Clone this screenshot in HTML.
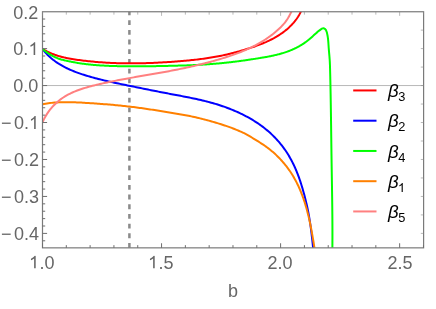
<!DOCTYPE html>
<html><head><meta charset="utf-8"><style>
html,body{margin:0;padding:0;background:#fff;}
body{width:436px;height:309px;position:relative;overflow:hidden;font-family:"Liberation Sans",sans-serif;color:#666666;}
.yl{position:absolute;left:0;width:37.7px;text-align:right;font-size:18px;line-height:20px;height:20px;white-space:nowrap;}
.xl{position:absolute;top:0;transform:translateY(252.6px);width:60px;text-align:center;font-size:18px;line-height:20px;height:20px;}
.lg{position:absolute;left:387.6px;font-size:18.6px;line-height:20px;height:20px;color:#000;white-space:nowrap;}
.g1{width:0.556em;height:0.7187em;vertical-align:baseline;display:inline-block;}
.m{margin-right:2.6px;margin-left:1px}
.yl,.xl,.lg{will-change:transform;}
.lg span{font-size:12.8px;position:relative;top:4.4px;left:-0.3px;}
</style></head><body>
<svg width="436" height="309" viewBox="0 0 436 309" style="position:absolute;left:0;top:0">
<defs><clipPath id="c"><rect x="42.50" y="11.75" width="381.10" height="236.10"/></clipPath></defs>
<line x1="42.50" y1="85.56" x2="423.60" y2="85.56" stroke="#b8b8b8" stroke-width="1"/>
<g clip-path="url(#c)" fill="none" stroke-width="2" stroke-linejoin="round">
<line x1="129.4" y1="0.81" x2="129.4" y2="260" stroke="#8a8a8a" stroke-width="2.5" stroke-dasharray="4.85 4.84"/>
<path d="M42.50 48.90 L43.84 49.70 L45.19 50.46 L46.54 51.18 L47.90 51.86 L49.27 52.51 L50.65 53.12 L52.03 53.70 L53.42 54.24 L54.82 54.76 L56.22 55.24 L57.63 55.70 L59.05 56.12 L60.47 56.53 L61.90 56.91 L63.33 57.26 L64.76 57.60 L66.21 57.91 L67.65 58.21 L69.11 58.49 L70.56 58.76 L72.02 59.01 L73.49 59.25 L74.96 59.47 L76.43 59.69 L77.90 59.90 L79.38 60.10 L80.86 60.29 L82.35 60.48 L83.84 60.66 L85.33 60.84 L86.82 61.01 L88.32 61.17 L89.81 61.33 L91.31 61.48 L92.81 61.62 L94.31 61.76 L95.82 61.89 L97.32 62.02 L98.83 62.14 L100.33 62.25 L101.84 62.36 L103.35 62.46 L104.85 62.56 L106.36 62.65 L107.87 62.74 L109.38 62.82 L110.88 62.89 L112.39 62.96 L113.89 63.02 L115.40 63.08 L116.90 63.13 L118.41 63.18 L119.91 63.22 L121.41 63.25 L122.91 63.28 L124.42 63.31 L125.92 63.33 L127.42 63.35 L128.92 63.36 L130.42 63.36 L131.92 63.36 L133.42 63.36 L134.92 63.35 L136.42 63.34 L137.92 63.32 L139.42 63.30 L140.92 63.27 L142.42 63.24 L143.92 63.20 L145.41 63.16 L146.91 63.12 L148.41 63.07 L149.91 63.02 L151.40 62.96 L152.90 62.90 L154.39 62.84 L155.89 62.77 L157.39 62.70 L158.88 62.62 L160.38 62.54 L161.87 62.46 L163.36 62.37 L164.86 62.28 L166.35 62.19 L167.85 62.09 L169.34 61.99 L170.83 61.89 L172.33 61.79 L173.82 61.68 L175.31 61.56 L176.80 61.45 L178.30 61.33 L179.79 61.21 L181.28 61.08 L182.77 60.96 L184.26 60.83 L185.75 60.69 L187.24 60.55 L188.73 60.41 L190.22 60.26 L191.71 60.11 L193.20 59.95 L194.69 59.79 L196.18 59.62 L197.66 59.44 L199.15 59.26 L200.63 59.08 L202.12 58.88 L203.60 58.69 L205.08 58.48 L206.57 58.27 L208.05 58.04 L209.53 57.82 L211.01 57.58 L212.48 57.33 L213.96 57.08 L215.44 56.82 L216.91 56.55 L218.38 56.27 L219.86 55.98 L221.33 55.68 L222.80 55.38 L224.27 55.06 L225.73 54.73 L227.20 54.40 L228.66 54.05 L230.12 53.70 L231.59 53.34 L233.05 52.97 L234.50 52.59 L235.96 52.21 L237.41 51.81 L238.87 51.41 L240.32 50.99 L241.77 50.57 L243.21 50.15 L244.66 49.71 L246.10 49.27 L247.54 48.81 L248.98 48.36 L250.42 47.89 L251.86 47.41 L253.29 46.93 L254.71 46.44 L256.14 45.93 L257.55 45.41 L258.97 44.89 L260.37 44.35 L261.77 43.79 L263.16 43.23 L264.54 42.64 L265.92 42.05 L267.28 41.43 L268.64 40.80 L269.98 40.16 L271.32 39.49 L272.64 38.81 L273.95 38.11 L275.24 37.38 L276.53 36.64 L277.80 35.87 L279.05 35.09 L280.29 34.28 L281.52 33.44 L282.72 32.58 L283.91 31.70 L285.09 30.79 L286.24 29.86 L287.38 28.90 L288.50 27.91 L289.59 26.89 L290.67 25.84 L291.72 24.77 L292.75 23.67 L293.74 22.54 L294.71 21.38 L295.64 20.20 L296.54 18.99 L297.40 17.75 L298.22 16.48 L299.00 15.19 L299.73 13.88 L300.41 12.53 L301.05 11.16 L301.65 9.77 L302.26 8.35 L302.89 6.91 L302.91 6.87" stroke="#ff0000"/>
<path d="M42.50 48.90 L43.44 50.13 L44.40 51.32 L45.39 52.48 L46.41 53.60 L47.45 54.69 L48.52 55.75 L49.61 56.77 L50.72 57.77 L51.85 58.73 L53.01 59.67 L54.19 60.58 L55.38 61.46 L56.60 62.31 L57.83 63.14 L59.08 63.94 L60.35 64.71 L61.63 65.46 L62.93 66.19 L64.25 66.90 L65.58 67.58 L66.92 68.24 L68.27 68.88 L69.63 69.51 L71.01 70.11 L72.39 70.69 L73.79 71.26 L75.19 71.81 L76.60 72.34 L78.02 72.86 L79.44 73.37 L80.87 73.86 L82.30 74.34 L83.74 74.80 L85.18 75.26 L86.63 75.70 L88.07 76.13 L89.52 76.55 L90.96 76.97 L92.41 77.37 L93.86 77.77 L95.31 78.16 L96.76 78.54 L98.21 78.92 L99.66 79.29 L101.11 79.65 L102.56 80.00 L104.02 80.35 L105.47 80.69 L106.93 81.03 L108.38 81.37 L109.84 81.69 L111.30 82.02 L112.76 82.34 L114.22 82.66 L115.68 82.97 L117.14 83.28 L118.60 83.59 L120.06 83.89 L121.52 84.20 L122.99 84.50 L124.45 84.80 L125.92 85.10 L127.39 85.40 L128.86 85.70 L130.32 85.99 L131.79 86.29 L133.26 86.59 L134.74 86.89 L136.21 87.19 L137.68 87.49 L139.16 87.79 L140.63 88.09 L142.10 88.38 L143.58 88.68 L145.06 88.98 L146.53 89.28 L148.01 89.57 L149.49 89.87 L150.96 90.16 L152.44 90.46 L153.92 90.75 L155.39 91.04 L156.87 91.33 L158.35 91.62 L159.83 91.91 L161.31 92.20 L162.78 92.49 L164.26 92.77 L165.74 93.06 L167.21 93.34 L168.69 93.62 L170.16 93.90 L171.64 94.18 L173.11 94.45 L174.59 94.73 L176.06 95.01 L177.53 95.29 L179.01 95.56 L180.48 95.84 L181.95 96.12 L183.42 96.41 L184.89 96.69 L186.36 96.98 L187.82 97.27 L189.29 97.56 L190.75 97.86 L192.22 98.17 L193.68 98.47 L195.14 98.78 L196.60 99.10 L198.06 99.43 L199.51 99.75 L200.97 100.09 L202.42 100.43 L203.87 100.78 L205.32 101.14 L206.77 101.51 L208.22 101.88 L209.67 102.27 L211.11 102.66 L212.55 103.06 L213.99 103.48 L215.43 103.90 L216.86 104.33 L218.30 104.78 L219.73 105.24 L221.16 105.70 L222.58 106.18 L224.00 106.68 L225.42 107.18 L226.84 107.70 L228.25 108.23 L229.66 108.77 L231.06 109.32 L232.46 109.88 L233.85 110.46 L235.23 111.05 L236.61 111.66 L237.99 112.28 L239.36 112.91 L240.72 113.55 L242.07 114.21 L243.42 114.88 L244.76 115.56 L246.09 116.26 L247.41 116.98 L248.73 117.70 L250.03 118.44 L251.33 119.20 L252.61 119.97 L253.89 120.75 L255.16 121.55 L256.42 122.37 L257.66 123.20 L258.90 124.04 L260.12 124.90 L261.33 125.77 L262.54 126.66 L263.72 127.57 L264.90 128.49 L266.06 129.43 L267.22 130.38 L268.35 131.35 L269.48 132.34 L270.59 133.34 L271.68 134.36 L272.76 135.40 L273.83 136.45 L274.88 137.52 L275.92 138.60 L276.94 139.70 L277.94 140.82 L278.93 141.96 L279.90 143.11 L280.86 144.27 L281.79 145.45 L282.71 146.64 L283.61 147.85 L284.49 149.07 L285.35 150.30 L286.19 151.54 L287.01 152.80 L287.81 154.06 L288.60 155.34 L289.36 156.63 L290.11 157.93 L290.83 159.24 L291.54 160.56 L292.23 161.88 L292.91 163.22 L293.57 164.56 L294.21 165.91 L294.83 167.27 L295.44 168.64 L296.03 170.01 L296.60 171.39 L297.16 172.77 L297.71 174.16 L298.24 175.55 L298.75 176.95 L299.25 178.36 L299.75 179.77 L300.22 181.18 L300.69 182.60 L301.15 184.02 L301.59 185.45 L302.03 186.88 L302.46 188.32 L302.87 189.76 L303.28 191.20 L303.69 192.65 L304.08 194.10 L304.47 195.55 L304.85 197.01 L305.22 198.47 L305.59 199.93 L305.94 201.40 L306.29 202.87 L306.63 204.34 L306.96 205.81 L307.28 207.29 L307.59 208.76 L307.89 210.24 L308.19 211.72 L308.47 213.20 L308.74 214.69 L309.01 216.17 L309.26 217.66 L309.51 219.15 L309.75 220.63 L309.98 222.12 L310.21 223.61 L310.43 225.10 L310.64 226.59 L310.84 228.08 L311.04 229.57 L311.23 231.06 L311.42 232.55 L311.60 234.04 L311.77 235.52 L311.95 237.01 L312.11 238.50 L312.27 239.98 L312.43 241.47 L312.59 242.95 L312.74 244.43 L312.89 245.91 L313.04 247.39 L313.18 248.87 L313.33 250.34 L313.47 251.81 L313.61 253.28 L313.75 254.75 L313.76 254.92" stroke="#0000ff"/>
<path d="M42.50 48.90 L43.11 49.43 L43.73 49.95 L44.35 50.45 L44.98 50.96 L45.62 51.45 L46.26 51.93 L46.92 52.40 L47.58 52.87 L48.24 53.32 L48.91 53.76 L49.59 54.19 L50.28 54.61 L50.97 55.02 L51.66 55.42 L52.36 55.81 L53.07 56.19 L53.78 56.55 L54.50 56.90 L55.22 57.24 L55.95 57.56 L56.68 57.87 L57.42 58.17 L58.16 58.46 L58.90 58.73 L59.65 58.98 L60.41 59.23 L61.16 59.46 L61.92 59.67 L62.68 59.88 L63.45 60.08 L64.22 60.27 L64.99 60.45 L65.77 60.62 L66.54 60.79 L67.32 60.96 L68.11 61.12 L68.89 61.28 L69.68 61.43 L70.46 61.59 L71.25 61.74 L72.04 61.90 L72.84 62.05 L73.63 62.20 L74.42 62.34 L75.22 62.49 L76.02 62.63 L76.81 62.77 L77.61 62.90 L78.40 63.04 L79.20 63.16 L80.00 63.29 L80.79 63.41 L81.59 63.53 L82.39 63.64 L83.18 63.75 L83.98 63.86 L84.78 63.96 L85.57 64.06 L86.37 64.16 L87.17 64.25 L87.96 64.34 L88.76 64.43 L89.55 64.51 L90.35 64.60 L91.15 64.68 L91.94 64.75 L92.74 64.83 L93.53 64.90 L94.33 64.97 L95.13 65.03 L95.92 65.10 L96.72 65.16 L97.52 65.22 L98.31 65.27 L99.11 65.33 L99.91 65.38 L100.70 65.43 L101.50 65.48 L102.30 65.53 L103.09 65.57 L103.89 65.62 L104.69 65.66 L105.48 65.70 L106.28 65.74 L107.08 65.78 L107.87 65.81 L108.67 65.85 L109.47 65.88 L110.27 65.91 L111.07 65.94 L111.86 65.97 L112.66 66.00 L113.46 66.03 L114.26 66.05 L115.06 66.08 L115.85 66.10 L116.65 66.12 L117.45 66.15 L118.25 66.17 L119.05 66.18 L119.85 66.20 L120.65 66.22 L121.45 66.24 L122.24 66.25 L123.04 66.26 L123.84 66.28 L124.64 66.29 L125.44 66.30 L126.24 66.31 L127.04 66.32 L127.84 66.33 L128.64 66.33 L129.44 66.34 L130.24 66.34 L131.04 66.35 L131.84 66.35 L132.64 66.35 L133.44 66.36 L134.24 66.36 L135.04 66.36 L135.84 66.36 L136.64 66.35 L137.44 66.35 L138.24 66.35 L139.04 66.35 L139.84 66.34 L140.64 66.34 L141.44 66.33 L142.24 66.33 L143.04 66.32 L143.84 66.31 L144.64 66.30 L145.44 66.29 L146.24 66.29 L147.04 66.28 L147.84 66.27 L148.65 66.25 L149.45 66.24 L150.25 66.23 L151.05 66.22 L151.85 66.21 L152.65 66.19 L153.45 66.18 L154.25 66.17 L155.05 66.15 L155.85 66.14 L156.65 66.12 L157.45 66.11 L158.25 66.09 L159.05 66.07 L159.85 66.06 L160.65 66.04 L161.46 66.02 L162.26 66.01 L163.06 65.99 L163.86 65.97 L164.66 65.95 L165.46 65.94 L166.26 65.92 L167.06 65.90 L167.86 65.88 L168.66 65.86 L169.46 65.84 L170.26 65.83 L171.06 65.81 L171.86 65.79 L172.66 65.77 L173.46 65.75 L174.26 65.73 L175.06 65.71 L175.86 65.69 L176.66 65.67 L177.46 65.65 L178.26 65.62 L179.06 65.60 L179.86 65.58 L180.66 65.56 L181.46 65.53 L182.26 65.51 L183.06 65.48 L183.86 65.46 L184.66 65.43 L185.46 65.40 L186.26 65.38 L187.06 65.35 L187.86 65.32 L188.65 65.29 L189.45 65.26 L190.25 65.23 L191.05 65.20 L191.85 65.16 L192.65 65.13 L193.45 65.09 L194.25 65.06 L195.05 65.02 L195.84 64.98 L196.64 64.94 L197.44 64.90 L198.24 64.86 L199.04 64.82 L199.84 64.78 L200.63 64.73 L201.43 64.69 L202.23 64.64 L203.03 64.59 L203.83 64.54 L204.62 64.49 L205.42 64.44 L206.22 64.39 L207.02 64.33 L207.82 64.28 L208.61 64.22 L209.41 64.17 L210.21 64.11 L211.00 64.05 L211.80 63.99 L212.60 63.92 L213.40 63.86 L214.19 63.80 L214.99 63.73 L215.79 63.66 L216.58 63.59 L217.38 63.52 L218.18 63.45 L218.97 63.38 L219.77 63.31 L220.56 63.23 L221.36 63.16 L222.16 63.08 L222.95 63.00 L223.75 62.92 L224.54 62.84 L225.34 62.76 L226.13 62.67 L226.93 62.59 L227.72 62.50 L228.52 62.41 L229.31 62.33 L230.11 62.24 L230.90 62.14 L231.70 62.05 L232.49 61.96 L233.29 61.86 L234.08 61.76 L234.88 61.67 L235.67 61.57 L236.46 61.47 L237.26 61.37 L238.05 61.26 L238.85 61.16 L239.64 61.05 L240.43 60.95 L241.23 60.84 L242.02 60.73 L242.81 60.62 L243.60 60.51 L244.40 60.40 L245.19 60.29 L245.98 60.18 L246.78 60.06 L247.57 59.95 L248.36 59.83 L249.15 59.72 L249.94 59.60 L250.74 59.48 L251.53 59.36 L252.32 59.24 L253.11 59.12 L253.90 59.00 L254.69 58.87 L255.49 58.75 L256.28 58.62 L257.07 58.50 L257.86 58.37 L258.65 58.25 L259.44 58.12 L260.23 57.99 L261.02 57.86 L261.81 57.73 L262.60 57.60 L263.39 57.47 L264.18 57.33 L264.97 57.19 L265.75 57.05 L266.54 56.91 L267.33 56.77 L268.11 56.62 L268.90 56.47 L269.68 56.32 L270.47 56.16 L271.25 56.00 L272.03 55.84 L272.81 55.67 L273.59 55.50 L274.37 55.33 L275.15 55.15 L275.92 54.96 L276.70 54.78 L277.47 54.58 L278.25 54.39 L279.02 54.19 L279.79 53.98 L280.56 53.77 L281.32 53.55 L282.09 53.32 L282.85 53.09 L283.61 52.86 L284.37 52.62 L285.13 52.37 L285.89 52.11 L286.64 51.85 L287.40 51.58 L288.15 51.31 L288.90 51.02 L289.64 50.73 L290.39 50.44 L291.13 50.13 L291.87 49.82 L292.61 49.50 L293.34 49.17 L294.07 48.83 L294.80 48.49 L295.52 48.14 L296.25 47.78 L296.96 47.42 L297.68 47.04 L298.38 46.66 L299.09 46.27 L299.79 45.88 L300.48 45.47 L301.17 45.06 L301.86 44.65 L302.54 44.22 L303.21 43.79 L303.88 43.35 L304.54 42.90 L305.20 42.44 L305.85 41.98 L306.49 41.51 L307.13 41.03 L307.76 40.54 L308.38 40.05 L309.00 39.55 L309.61 39.04 L310.21 38.52 L310.81 38.00 L311.40 37.47 L311.98 36.93 L312.57 36.40 L313.15 35.86 L313.73 35.32 L314.31 34.78 L314.90 34.24 L315.49 33.70 L316.09 33.17 L316.69 32.64 L317.30 32.12 L317.93 31.60 L318.56 31.09 L319.20 30.59 L319.86 30.10 L320.53 29.62 L321.22 29.16 L321.93 28.71 L322.65 28.38 L323.38 28.25 L324.11 28.40 L324.77 28.77 L325.33 29.27 L325.78 29.86 L326.16 30.53 L326.46 31.27 L326.72 32.04 L326.94 32.83 L327.13 33.63 L327.31 34.43 L327.47 35.23 L327.61 36.03 L327.74 36.82 L327.86 37.62 L327.96 38.42 L328.05 39.22 L328.14 40.02 L328.21 40.81 L328.28 41.61 L328.34 42.41 L328.40 43.21 L328.45 44.01 L328.51 44.80 L328.56 45.60 L328.61 46.40 L328.66 47.20 L328.72 48.00 L328.78 48.80 L328.85 49.59 L328.91 50.39 L328.98 51.19 L329.05 51.99 L329.12 52.79 L329.19 53.58 L329.26 54.38 L329.33 55.18 L329.40 55.98 L329.47 56.78 L329.53 57.58 L329.59 58.37 L329.65 59.17 L329.70 59.97 L329.75 60.77 L329.80 61.57 L329.84 62.36 L329.87 63.16 L329.91 63.96 L329.94 64.76 L329.97 65.56 L329.99 66.36 L330.02 67.15 L330.04 67.95 L330.06 68.75 L330.08 69.55 L330.10 70.35 L330.12 71.15 L330.14 71.95 L330.16 72.74 L330.18 73.54 L330.20 74.34 L330.22 75.14 L330.24 75.94 L330.26 76.74 L330.28 77.54 L330.29 78.34 L330.31 79.13 L330.33 79.93 L330.35 80.73 L330.37 81.53 L330.38 82.33 L330.40 83.13 L330.42 83.93 L330.43 84.73 L330.45 85.53 L330.47 86.33 L330.48 87.12 L330.50 87.92 L330.51 88.72 L330.53 89.52 L330.54 90.32 L330.56 91.12 L330.57 91.92 L330.59 92.72 L330.60 93.52 L330.62 94.32 L330.63 95.12 L330.65 95.92 L330.66 96.72 L330.67 97.52 L330.69 98.31 L330.70 99.11 L330.71 99.91 L330.73 100.71 L330.74 101.51 L330.75 102.31 L330.77 103.11 L330.78 103.91 L330.79 104.71 L330.81 105.51 L330.82 106.31 L330.83 107.11 L330.84 107.91 L330.86 108.71 L330.87 109.51 L330.88 110.31 L330.89 111.11 L330.90 111.91 L330.92 112.71 L330.93 113.51 L330.94 114.31 L330.95 115.11 L330.96 115.91 L330.97 116.71 L330.98 117.51 L331.00 118.31 L331.01 119.11 L331.02 119.91 L331.03 120.71 L331.04 121.51 L331.05 122.31 L331.06 123.11 L331.07 123.91 L331.08 124.71 L331.10 125.51 L331.11 126.31 L331.12 127.11 L331.13 127.91 L331.14 128.71 L331.15 129.51 L331.16 130.31 L331.17 131.11 L331.18 131.91 L331.19 132.71 L331.20 133.51 L331.21 134.31 L331.22 135.11 L331.23 135.91 L331.24 136.71 L331.25 137.51 L331.27 138.31 L331.28 139.11 L331.29 139.91 L331.30 140.71 L331.31 141.51 L331.32 142.31 L331.33 143.11 L331.34 143.91 L331.35 144.71 L331.36 145.51 L331.37 146.31 L331.38 147.11 L331.39 147.91 L331.41 148.71 L331.42 149.51 L331.43 150.31 L331.44 151.11 L331.45 151.91 L331.46 152.71 L331.47 153.51 L331.48 154.31 L331.50 155.11 L331.51 155.91 L331.52 156.71 L331.53 157.51 L331.54 158.32 L331.55 159.12 L331.57 159.92 L331.58 160.72 L331.59 161.52 L331.60 162.32 L331.61 163.12 L331.63 163.92 L331.64 164.72 L331.65 165.52 L331.66 166.32 L331.68 167.12 L331.69 167.92 L331.70 168.72 L331.71 169.52 L331.73 170.32 L331.74 171.12 L331.75 171.92 L331.77 172.72 L331.78 173.52 L331.79 174.32 L331.80 175.12 L331.82 175.92 L331.83 176.72 L331.84 177.52 L331.86 178.32 L331.87 179.12 L331.88 179.93 L331.89 180.73 L331.91 181.53 L331.92 182.33 L331.93 183.13 L331.94 183.93 L331.96 184.73 L331.97 185.53 L331.98 186.33 L331.99 187.13 L332.01 187.93 L332.02 188.73 L332.03 189.53 L332.04 190.33 L332.05 191.13 L332.07 191.93 L332.08 192.73 L332.09 193.53 L332.10 194.33 L332.11 195.13 L332.12 195.93 L332.13 196.73 L332.15 197.53 L332.16 198.33 L332.17 199.13 L332.18 199.93 L332.19 200.73 L332.20 201.53 L332.21 202.33 L332.22 203.13 L332.23 203.93 L332.24 204.73 L332.25 205.53 L332.26 206.33 L332.27 207.13 L332.28 207.93 L332.28 208.73 L332.29 209.53 L332.30 210.33 L332.31 211.13 L332.32 211.93 L332.32 212.73 L332.33 213.53 L332.34 214.33 L332.35 215.13 L332.35 215.93 L332.36 216.73 L332.37 217.53 L332.37 218.33 L332.38 219.13 L332.38 219.93 L332.39 220.73 L332.39 221.53 L332.40 222.33 L332.40 223.13 L332.41 223.93 L332.41 224.73 L332.41 225.53 L332.42 226.33 L332.42 227.13 L332.42 227.93 L332.42 228.73 L332.43 229.53 L332.43 230.33 L332.43 231.13 L332.43 231.93 L332.43 232.73 L332.43 233.53 L332.43 234.33 L332.43 235.13 L332.43 235.93 L332.43 236.73 L332.43 237.53 L332.43 238.33 L332.42 239.13 L332.42 239.93 L332.42 240.73 L332.41 241.53 L332.41 242.33 L332.41 243.13 L332.40 243.92 L332.40 244.72 L332.39 245.52 L332.39 246.32 L332.38 247.12 L332.37 247.92 L332.36 248.72 L332.36 249.52 L332.35 250.32 L332.34 251.12 L332.33 251.92 L332.32 252.72 L332.31 253.52 L332.30 254.31 L332.29 255.00" stroke="#00ff00"/>
<path d="M42.50 104.20 L43.99 103.93 L45.48 103.67 L46.97 103.45 L48.45 103.24 L49.94 103.05 L51.44 102.88 L52.93 102.74 L54.42 102.61 L55.91 102.49 L57.40 102.40 L58.89 102.32 L60.39 102.26 L61.88 102.21 L63.38 102.18 L64.87 102.16 L66.36 102.15 L67.86 102.15 L69.35 102.17 L70.85 102.20 L72.35 102.23 L73.84 102.28 L75.34 102.33 L76.83 102.39 L78.33 102.46 L79.83 102.54 L81.33 102.62 L82.82 102.70 L84.32 102.79 L85.82 102.88 L87.31 102.98 L88.81 103.07 L90.31 103.17 L91.81 103.27 L93.31 103.37 L94.80 103.47 L96.30 103.57 L97.80 103.68 L99.30 103.79 L100.79 103.90 L102.29 104.01 L103.79 104.13 L105.29 104.24 L106.78 104.36 L108.28 104.49 L109.78 104.61 L111.27 104.74 L112.77 104.87 L114.27 105.01 L115.76 105.14 L117.26 105.29 L118.75 105.43 L120.25 105.58 L121.74 105.73 L123.24 105.89 L124.73 106.05 L126.23 106.22 L127.72 106.39 L129.21 106.56 L130.71 106.74 L132.20 106.92 L133.69 107.11 L135.18 107.30 L136.67 107.49 L138.16 107.69 L139.65 107.90 L141.14 108.10 L142.63 108.31 L144.12 108.52 L145.61 108.74 L147.09 108.96 L148.58 109.18 L150.07 109.40 L151.55 109.63 L153.04 109.85 L154.52 110.08 L156.00 110.31 L157.49 110.55 L158.97 110.78 L160.45 111.02 L161.93 111.25 L163.41 111.49 L164.89 111.73 L166.36 111.97 L167.84 112.21 L169.32 112.44 L170.79 112.68 L172.27 112.92 L173.74 113.17 L175.21 113.41 L176.68 113.66 L178.15 113.91 L179.62 114.16 L181.09 114.42 L182.56 114.68 L184.03 114.95 L185.49 115.22 L186.96 115.51 L188.42 115.79 L189.88 116.09 L191.34 116.39 L192.80 116.70 L194.26 117.02 L195.72 117.35 L197.18 117.69 L198.63 118.03 L200.09 118.38 L201.54 118.74 L202.99 119.10 L204.44 119.48 L205.89 119.86 L207.34 120.24 L208.78 120.64 L210.23 121.04 L211.67 121.45 L213.12 121.86 L214.56 122.28 L216.00 122.71 L217.43 123.15 L218.87 123.59 L220.31 124.04 L221.74 124.49 L223.17 124.96 L224.60 125.43 L226.02 125.91 L227.44 126.40 L228.86 126.90 L230.28 127.41 L231.69 127.93 L233.09 128.46 L234.50 129.00 L235.89 129.56 L237.29 130.13 L238.67 130.71 L240.05 131.30 L241.43 131.91 L242.79 132.54 L244.16 133.20 L245.51 133.90 L246.86 134.62 L248.20 135.38 L249.53 136.16 L250.85 136.95 L252.17 137.75 L253.48 138.56 L254.78 139.35 L256.06 140.14 L257.34 140.93 L258.61 141.72 L259.87 142.50 L261.12 143.30 L262.36 144.10 L263.59 144.92 L264.81 145.75 L266.01 146.60 L267.21 147.47 L268.39 148.36 L269.56 149.27 L270.71 150.20 L271.85 151.15 L272.98 152.11 L274.10 153.10 L275.20 154.10 L276.29 155.12 L277.36 156.16 L278.42 157.22 L279.47 158.29 L280.49 159.37 L281.50 160.48 L282.50 161.59 L283.48 162.73 L284.44 163.87 L285.39 165.04 L286.32 166.21 L287.23 167.40 L288.12 168.61 L288.99 169.82 L289.85 171.05 L290.69 172.29 L291.50 173.54 L292.30 174.81 L293.08 176.08 L293.84 177.37 L294.58 178.67 L295.30 179.97 L296.00 181.29 L296.69 182.62 L297.35 183.95 L298.00 185.30 L298.64 186.65 L299.25 188.01 L299.85 189.38 L300.44 190.76 L301.00 192.15 L301.56 193.54 L302.09 194.94 L302.62 196.35 L303.13 197.76 L303.62 199.18 L304.10 200.61 L304.57 202.04 L305.02 203.48 L305.47 204.92 L305.90 206.37 L306.32 207.82 L306.72 209.27 L307.12 210.73 L307.50 212.19 L307.88 213.66 L308.24 215.13 L308.60 216.60 L308.94 218.07 L309.28 219.55 L309.61 221.03 L309.93 222.51 L310.24 223.99 L310.54 225.47 L310.84 226.95 L311.13 228.43 L311.41 229.92 L311.68 231.40 L311.95 232.88 L312.22 234.36 L312.48 235.84 L312.73 237.32 L312.98 238.80 L313.23 240.27 L313.47 241.75 L313.71 243.22 L313.94 244.68 L314.17 246.15 L314.40 247.61 L314.63 249.06 L314.85 250.52 L315.08 251.97 L315.30 253.41 L315.52 254.85 L315.53 254.89" stroke="#ff8000"/>
<path d="M42.50 122.40 L43.11 121.02 L43.76 119.65 L44.44 118.31 L45.16 116.98 L45.92 115.67 L46.71 114.38 L47.53 113.12 L48.39 111.88 L49.28 110.66 L50.20 109.47 L51.15 108.30 L52.12 107.17 L53.13 106.05 L54.16 104.97 L55.22 103.92 L56.31 102.90 L57.42 101.91 L58.56 100.95 L59.72 100.03 L60.90 99.14 L62.10 98.29 L63.33 97.47 L64.57 96.67 L65.84 95.91 L67.12 95.18 L68.42 94.48 L69.74 93.80 L71.07 93.15 L72.42 92.53 L73.78 91.93 L75.16 91.35 L76.54 90.79 L77.95 90.26 L79.36 89.74 L80.78 89.25 L82.21 88.77 L83.65 88.31 L85.10 87.86 L86.55 87.43 L88.01 87.02 L89.48 86.61 L90.95 86.22 L92.42 85.84 L93.90 85.47 L95.37 85.11 L96.85 84.75 L98.33 84.40 L99.81 84.06 L101.29 83.73 L102.77 83.39 L104.25 83.07 L105.72 82.75 L107.20 82.43 L108.67 82.12 L110.15 81.81 L111.63 81.51 L113.10 81.21 L114.57 80.91 L116.05 80.62 L117.52 80.34 L119.00 80.05 L120.47 79.77 L121.94 79.49 L123.41 79.22 L124.89 78.94 L126.36 78.67 L127.83 78.41 L129.30 78.14 L130.77 77.88 L132.24 77.62 L133.71 77.36 L135.18 77.10 L136.65 76.84 L138.12 76.58 L139.59 76.33 L141.06 76.07 L142.53 75.82 L144.00 75.57 L145.47 75.31 L146.94 75.06 L148.41 74.81 L149.88 74.55 L151.35 74.30 L152.82 74.04 L154.29 73.79 L155.76 73.53 L157.23 73.27 L158.70 73.01 L160.17 72.75 L161.64 72.49 L163.11 72.23 L164.58 71.96 L166.05 71.69 L167.52 71.42 L168.99 71.15 L170.46 70.87 L171.93 70.59 L173.40 70.31 L174.87 70.02 L176.34 69.73 L177.81 69.44 L179.28 69.14 L180.76 68.84 L182.23 68.54 L183.70 68.23 L185.17 67.92 L186.65 67.60 L188.12 67.28 L189.59 66.95 L191.06 66.62 L192.53 66.29 L194.00 65.95 L195.47 65.60 L196.94 65.26 L198.41 64.90 L199.87 64.55 L201.34 64.18 L202.80 63.82 L204.26 63.44 L205.72 63.07 L207.18 62.69 L208.64 62.30 L210.09 61.91 L211.55 61.51 L213.00 61.11 L214.45 60.71 L215.89 60.29 L217.33 59.88 L218.77 59.46 L220.21 59.03 L221.65 58.60 L223.08 58.16 L224.51 57.71 L225.93 57.26 L227.36 56.81 L228.78 56.34 L230.19 55.87 L231.60 55.39 L233.01 54.90 L234.41 54.40 L235.81 53.90 L237.21 53.38 L238.60 52.85 L239.99 52.31 L241.37 51.77 L242.75 51.20 L244.12 50.63 L245.49 50.05 L246.86 49.45 L248.21 48.84 L249.57 48.21 L250.92 47.57 L252.26 46.92 L253.60 46.25 L254.93 45.56 L256.25 44.86 L257.57 44.14 L258.89 43.41 L260.20 42.66 L261.50 41.89 L262.79 41.10 L264.07 40.30 L265.34 39.48 L266.61 38.64 L267.86 37.79 L269.10 36.92 L270.33 36.03 L271.54 35.12 L272.74 34.20 L273.93 33.25 L275.10 32.29 L276.25 31.31 L277.39 30.32 L278.52 29.30 L279.62 28.27 L280.70 27.22 L281.75 26.14 L282.77 25.05 L283.76 23.93 L284.71 22.79 L285.62 21.63 L286.48 20.44 L287.29 19.23 L288.06 17.99 L288.79 16.72 L289.49 15.44 L290.18 14.13 L290.86 12.81 L291.54 11.47 L292.23 10.12 L292.95 8.75 L293.69 7.38 L293.96 6.90" stroke="#ff8080"/>
</g>
<rect x="42.50" y="11.75" width="381.10" height="236.10" fill="none" stroke="#7a7a7a" stroke-width="1.2"/>
<path d="M42.50 247.85v-4.60M66.31 247.85v-2.70M90.12 247.85v-2.70M113.93 247.85v-2.70M137.74 247.85v-2.70M161.55 247.85v-4.60M185.36 247.85v-2.70M209.17 247.85v-2.70M232.98 247.85v-2.70M256.79 247.85v-2.70M280.60 247.85v-4.60M304.41 247.85v-2.70M328.22 247.85v-2.70M352.03 247.85v-2.70M375.84 247.85v-2.70M399.65 247.85v-4.60M423.46 247.85v-2.70M42.50 240.79h2.70M42.50 233.40h4.60M42.50 226.01h2.70M42.50 218.62h2.70M42.50 211.22h2.70M42.50 203.83h2.70M42.50 196.44h4.60M42.50 189.05h2.70M42.50 181.66h2.70M42.50 174.26h2.70M42.50 166.87h2.70M42.50 159.48h4.60M42.50 152.09h2.70M42.50 144.70h2.70M42.50 137.30h2.70M42.50 129.91h2.70M42.50 122.52h4.60M42.50 115.13h2.70M42.50 107.74h2.70M42.50 100.34h2.70M42.50 92.95h2.70M42.50 85.56h4.60M42.50 78.17h2.70M42.50 70.78h2.70M42.50 63.38h2.70M42.50 55.99h2.70M42.50 48.60h4.60M42.50 41.21h2.70M42.50 33.82h2.70M42.50 26.42h2.70M42.50 19.03h2.70" stroke="#6e6e6e" stroke-width="1" fill="none"/>
<path d="M42.50 11.75v4.10M66.31 11.75v2.90M90.12 11.75v2.90M113.93 11.75v2.90M137.74 11.75v2.90M161.55 11.75v4.10M185.36 11.75v2.90M209.17 11.75v2.90M232.98 11.75v2.90M256.79 11.75v2.90M280.60 11.75v4.10M304.41 11.75v2.90M328.22 11.75v2.90M352.03 11.75v2.90M375.84 11.75v2.90M399.65 11.75v4.10M423.46 11.75v2.90M423.60 233.40h-2.80M423.60 214.92h-2.80M423.60 196.44h-2.80M423.60 177.96h-2.80M423.60 159.48h-2.80M423.60 141.00h-2.80M423.60 122.52h-2.80M423.60 104.04h-2.80M423.60 85.56h-2.80M423.60 67.08h-2.80M423.60 48.60h-2.80M423.60 30.12h-2.80" stroke="#8a8a8a" stroke-width="0.6" fill="none"/>
<line x1="353.2" y1="90.45" x2="376.5" y2="90.45" stroke="#ff0000" stroke-width="2"/>
<line x1="353.2" y1="120.70" x2="376.5" y2="120.70" stroke="#0000ff" stroke-width="2"/>
<line x1="353.2" y1="150.95" x2="376.5" y2="150.95" stroke="#00ff00" stroke-width="2"/>
<line x1="353.2" y1="181.20" x2="376.5" y2="181.20" stroke="#ff8000" stroke-width="2"/>
<line x1="353.2" y1="211.45" x2="376.5" y2="211.45" stroke="#ff8080" stroke-width="2"/>
</svg>
<div class="yl" style="top:0;transform:translate(0.50px,2.54px)">0.2</div>
<div class="yl" style="top:0;transform:translate(0.50px,39.10px)">0.<svg class="g1" viewBox="0 -1472 1139 1472"><path d="M763 0H583V-1147Q518 -1085 412.5 -1023T223 -930V-1104Q373 -1174.5 485.5 -1275T644 -1466H763Z" fill="currentColor"/></svg></div>
<div class="yl" style="top:0;transform:translate(0.50px,76.06px)">0.0</div>
<div class="yl" style="top:0;transform:translate(0.00px,113.02px)"><span class="m">−</span>0.<svg class="g1" viewBox="0 -1472 1139 1472"><path d="M763 0H583V-1147Q518 -1085 412.5 -1023T223 -930V-1104Q373 -1174.5 485.5 -1275T644 -1466H763Z" fill="currentColor"/></svg></div>
<div class="yl" style="top:0;transform:translate(0.00px,149.98px)"><span class="m">−</span>0.2</div>
<div class="yl" style="top:0;transform:translate(0.00px,186.94px)"><span class="m">−</span>0.3</div>
<div class="yl" style="top:0;transform:translate(0.00px,223.90px)"><span class="m">−</span>0.4</div>
<div class="xl" style="left:12.10px"><svg class="g1" viewBox="0 -1472 1139 1472"><path d="M763 0H583V-1147Q518 -1085 412.5 -1023T223 -930V-1104Q373 -1174.5 485.5 -1275T644 -1466H763Z" fill="currentColor"/></svg>.0</div>
<div class="xl" style="left:131.15px"><svg class="g1" viewBox="0 -1472 1139 1472"><path d="M763 0H583V-1147Q518 -1085 412.5 -1023T223 -930V-1104Q373 -1174.5 485.5 -1275T644 -1466H763Z" fill="currentColor"/></svg>.5</div>
<div class="xl" style="left:249.80px">2.0</div>
<div class="xl" style="left:369.95px">2.5</div>
<div class="xl" style="left:202.55px;transform:translateY(280.5px)">b</div>
<div class="lg" style="top:81.15px"><i>β</i><span>3</span></div>
<div class="lg" style="top:111.40px"><i>β</i><span>2</span></div>
<div class="lg" style="top:141.65px"><i>β</i><span>4</span></div>
<div class="lg" style="top:171.90px"><i>β</i><span><svg class="g1" viewBox="0 -1472 1139 1472"><path d="M763 0H583V-1147Q518 -1085 412.5 -1023T223 -930V-1104Q373 -1174.5 485.5 -1275T644 -1466H763Z" fill="currentColor"/></svg></span></div>
<div class="lg" style="top:202.15px"><i>β</i><span>5</span></div>
</body></html>
